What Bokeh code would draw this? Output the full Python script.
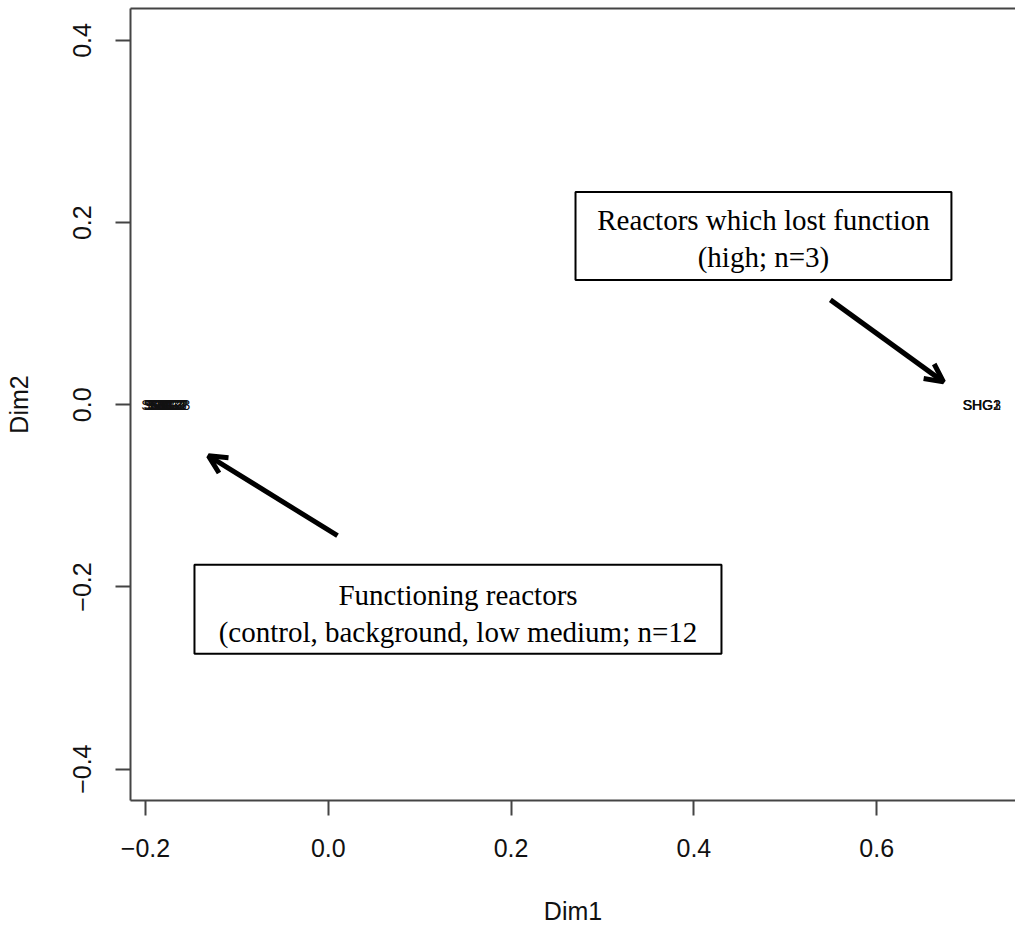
from bokeh.plotting import figure
from bokeh.models import Range1d, LinearAxis, FixedTicker, Arrow, OpenHead, ColumnDataSource
from bokeh.core.properties import value
from bokeh.embed import file_html
from bokeh.resources import INLINE

# ---- data (MDS coordinates) ----
sample_names = ["SCG1", "SCG2", "SCG3", "SBG1", "SBG2", "SBG3",
                "SLG1", "SLG2", "SLG3", "SMG1", "SMG2", "SMG3",
                "SHG1", "SHG2", "SHG3"]
dim1 = [-0.1838, -0.1812, -0.1795, -0.1780, -0.1768, -0.1752,
        -0.1740, -0.1735, -0.1822, -0.1760, -0.1745, -0.1728,
        0.7148, 0.7150, 0.7152]
dim2 = [0.0, 0.0, 0.0, 0.0, 0.0, 0.0,
        0.0, 0.0, 0.0, 0.0, 0.0, 0.0,
        0.0, 0.0, 0.0]

x_ticks = [-0.2, 0.0, 0.2, 0.4, 0.6]
y_ticks = [-0.4, -0.2, 0.0, 0.2, 0.4]

# annotation boxes (data coordinates)
box_left = [0.2705, -0.1464]
box_right = [0.6818, 0.4302]
box_top = [0.2337, -0.1755]
box_bottom = [0.1371, -0.2732]
box_line1 = ["Reactors which lost function", "Functioning reactors"]
box_line2 = ["(high; n=3)", "(control, background, low medium; n=12"]
box_line1_y = [0.2030, -0.2084]
box_line2_y = [0.1624, -0.2490]

# arrows (data coordinates)
arrow_x_start = [0.5494, 0.0101]
arrow_y_start = [0.1152, -0.1437]
arrow_x_end = [0.6731, -0.1311]
arrow_y_end = [0.0252, -0.0560]


def tick_text(v):
    s = "%.1f" % v
    return s.replace("-", "\u2212")


p = figure(width=1015, height=927, output_backend="svg", toolbar_location=None,
           x_range=Range1d(-0.2164, 0.7519), y_range=Range1d(-0.4344, 0.4351),
           x_axis_location=None, y_axis_location=None,
           min_border_left=130, min_border_right=0, min_border_top=8, min_border_bottom=127)
p.outline_line_color = None
p.xgrid.visible = False
p.ygrid.visible = False
p.background_fill_color = "white"
p.border_fill_color = "white"

axis_color = "#444444"

xaxis = LinearAxis(ticker=FixedTicker(ticks=x_ticks), axis_label="Dim1")
yaxis = LinearAxis(ticker=FixedTicker(ticks=y_ticks), axis_label="Dim2")
xaxis.major_label_overrides = {t: tick_text(t) for t in x_ticks}
yaxis.major_label_overrides = {t: tick_text(t) for t in y_ticks}
for ax in (xaxis, yaxis):
    ax.axis_line_color = axis_color
    ax.axis_line_width = 2
    ax.major_tick_line_color = axis_color
    ax.major_tick_line_width = 2
    ax.major_tick_out = 15
    ax.major_tick_in = 0
    ax.minor_tick_line_color = None
    ax.major_label_text_font = "Liberation Sans"
    ax.major_label_text_font_size = "25px"
    ax.major_label_text_color = "#111111"
    ax.axis_label_text_font = "Liberation Sans"
    ax.axis_label_text_font_size = "25px"
    ax.axis_label_text_font_style = "normal"
    ax.axis_label_text_color = "#111111"
xaxis.major_label_standoff = 23
xaxis.axis_label_standoff = 37
yaxis.major_label_standoff = 24
yaxis.major_label_orientation = "vertical"
yaxis.axis_label_standoff = 38
p.add_layout(xaxis, "below")
p.add_layout(yaxis, "left")

top_axis = LinearAxis(ticker=FixedTicker(ticks=[]))
top_axis.axis_line_color = axis_color
top_axis.axis_line_width = 2
top_axis.major_tick_line_color = None
top_axis.minor_tick_line_color = None
top_axis.major_label_text_font_size = "0px"
top_axis.major_label_standoff = 0
p.add_layout(top_axis, "above")

# sample labels
src = ColumnDataSource(dict(x=dim1, y=dim2, t=sample_names))
p.text(x="x", y="y", text="t", source=src, text_align="center", text_baseline="middle",
       text_font=value("Liberation Sans"), text_font_size="14px", text_color="#111111")

# annotation boxes
bsrc = ColumnDataSource(dict(left=box_left, right=box_right, top=box_top, bottom=box_bottom))
p.quad(left="left", right="right", top="top", bottom="bottom", source=bsrc,
       fill_color="white", line_color="black", line_width=2)
cx = [(a + b) / 2 for a, b in zip(box_left, box_right)]
p.text(x=cx, y=box_line1_y, text=box_line1, text_align="center", text_baseline="middle",
       text_font=value("Liberation Serif"), text_font_size="29px", text_color="black")
p.text(x=cx, y=box_line2_y, text=box_line2, text_align="center", text_baseline="middle",
       text_font=value("Liberation Serif"), text_font_size="29px", text_color="black")

# arrows
asrc = ColumnDataSource(dict(x0=arrow_x_start, y0=arrow_y_start, x1=arrow_x_end, y1=arrow_y_end))
p.add_layout(Arrow(end=OpenHead(size=18, line_width=5, line_color="black"),
                   x_start="x0", y_start="y0", x_end="x1", y_end="y1", source=asrc,
                   line_width=5, line_color="black"))

open("out.html", "w").write(file_html(p, INLINE))
